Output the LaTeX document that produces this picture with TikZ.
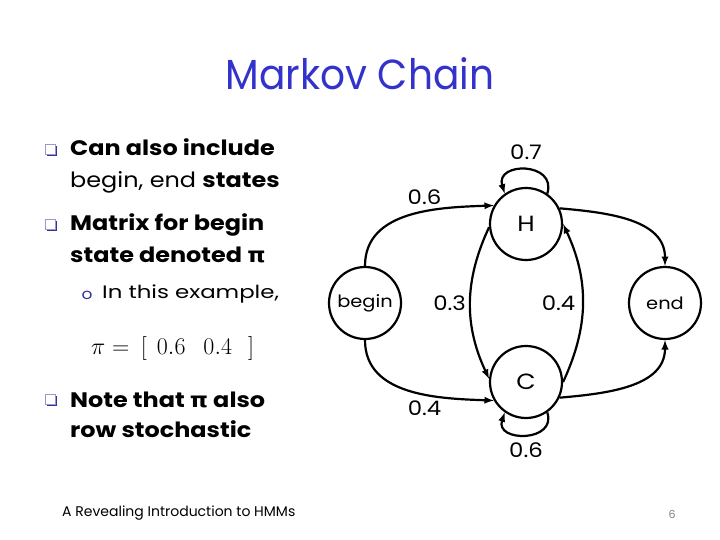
\RequirePackage{fix-cm}
\documentclass[tikz,border=0pt]{standalone}
\usepackage{fontspec}
\setmainfont{Poppins}[FakeStretch=1.14]
\newfontfamily\titlefont{Poppins}[FakeStretch=0.93]
\newfontfamily\subfont{Poppins}[FakeStretch=1.27]
\newfontfamily\footfont{Poppins}
\newfontfamily\grk{DejaVu Sans}[FakeStretch=1.1]
\usetikzlibrary{shadows}
\definecolor{titleblue}{RGB}{51,51,204}
\definecolor{bulletblue}{RGB}{51,51,153}

\begin{document}
\begin{tikzpicture}[x=1pt,y=-1pt]

\tikzset{>=latex}
\tikzset{state/.style={draw,circle,line width=2.2pt,minimum size=72pt,inner sep=0pt}}
\tikzset{link/.style={->,line width=2.2pt}}
\tikzset{prob/.style={font=\fontsize{20}{24}\selectfont}}
\tikzset{item/.style={anchor=base west,inner sep=0pt,font=\fontsize{21}{25}\selectfont}}
\tikzset{qbox/.style={rectangle,minimum size=10pt,inner sep=0pt,draw=bulletblue!50,line width=0.5pt,fill=white,
    drop shadow={shadow xshift=1.6pt,shadow yshift=-1.6pt,fill=bulletblue,opacity=1}}}
\def\textX{70}
\def\bulletX{50}

\useasboundingbox (0,0) rectangle (720,540);

% title
\draw (360,90) node[anchor=base,text=titleblue,font=\titlefont\fontsize{42}{48}\selectfont] (title) {Markov Chain};

% bullets
\draw (\bulletX,149) node[qbox] (q1) {};
\draw (\textX,156) node[item] (l1) {\textbf{Can also include}};
\draw (\textX,188) node[item] (l2) {begin, end \textbf{states}};
\draw (\bulletX,224) node[qbox] (q2) {};
\draw (\textX,230) node[item] (l3) {\textbf{Matrix for begin}};
\draw (\textX,262) node[item] (l4) {\textbf{state denoted {\grk π}}};
\draw (87,295) node[text=bulletblue,font=\fontsize{15}{18}\selectfont] (o1) {o};
\draw (102,298) node[item,font=\subfont\fontsize{18}{22}\selectfont] (l5) {In this example,};
\draw (91,354) node[anchor=base west,inner sep=0pt,font=\fontsize{24}{28}\selectfont] (pi)
    {$\pi = \hspace{5pt}\biggl[\hspace{10pt}0.6\hspace{18pt}0.4\hspace{16pt}\biggr]$};
\draw (\bulletX,399) node[qbox] (q3) {};
\draw (\textX,407) node[item] (l6) {\textbf{Note that {\grk π} also}};
\draw (\textX,437) node[item] (l7) {\textbf{row stochastic}};

% footer
\draw (62,516) node[anchor=base west,inner sep=0pt,font=\footfont\fontsize{14}{16}\selectfont] (foot) {A Revealing Introduction to HMMs};
\draw (672,518) node[anchor=base,inner sep=0pt,text=black!50,font=\footfont\fontsize{11}{13}\selectfont] (page) {6};

% states
\draw (365,303) node[state,font=\fontsize{17}{20}\selectfont] (begin) {begin};
\draw (526,224) node[state,font=\fontsize{22}{26}\selectfont] (H) {H};
\draw (526,382) node[state,font=\fontsize{22}{26}\selectfont] (C) {C};
\draw (665,303) node[state,font=\fontsize{17}{20}\selectfont] (end) {end};

% transitions
\draw[link] (begin.north) to[out=90,in=182]
    node[prob,pos=0.6,above=2pt] {0.6} (H.150);
\draw[link] (begin.south) to[out=-90,in=178]
    node[prob,pos=0.6,below=2pt] {0.4} (C.210);
\draw[link] (H.25) to[out=-5,in=90] (end.north);
\draw[link] (C.-25) to[out=5,in=-90] (end.south);
\draw[link] (H.185) to[bend right=25]
    node[prob,left] {0.3} (C.175);
\draw[link] (C.east) to[bend right=25]
    node[prob,left=3pt] {0.4} (H.east);
\draw[link] (H.55) .. controls +(10,-32) and +(-10,-32) .. (H.125)
    node[prob,pos=0.5,above=6pt] {0.7};
\draw[link] (C.-55) .. controls +(10,30) and +(-10,30) .. (C.-125)
    node[prob,pos=0.5,below=3pt] {0.6};

\end{tikzpicture}
\end{document}
